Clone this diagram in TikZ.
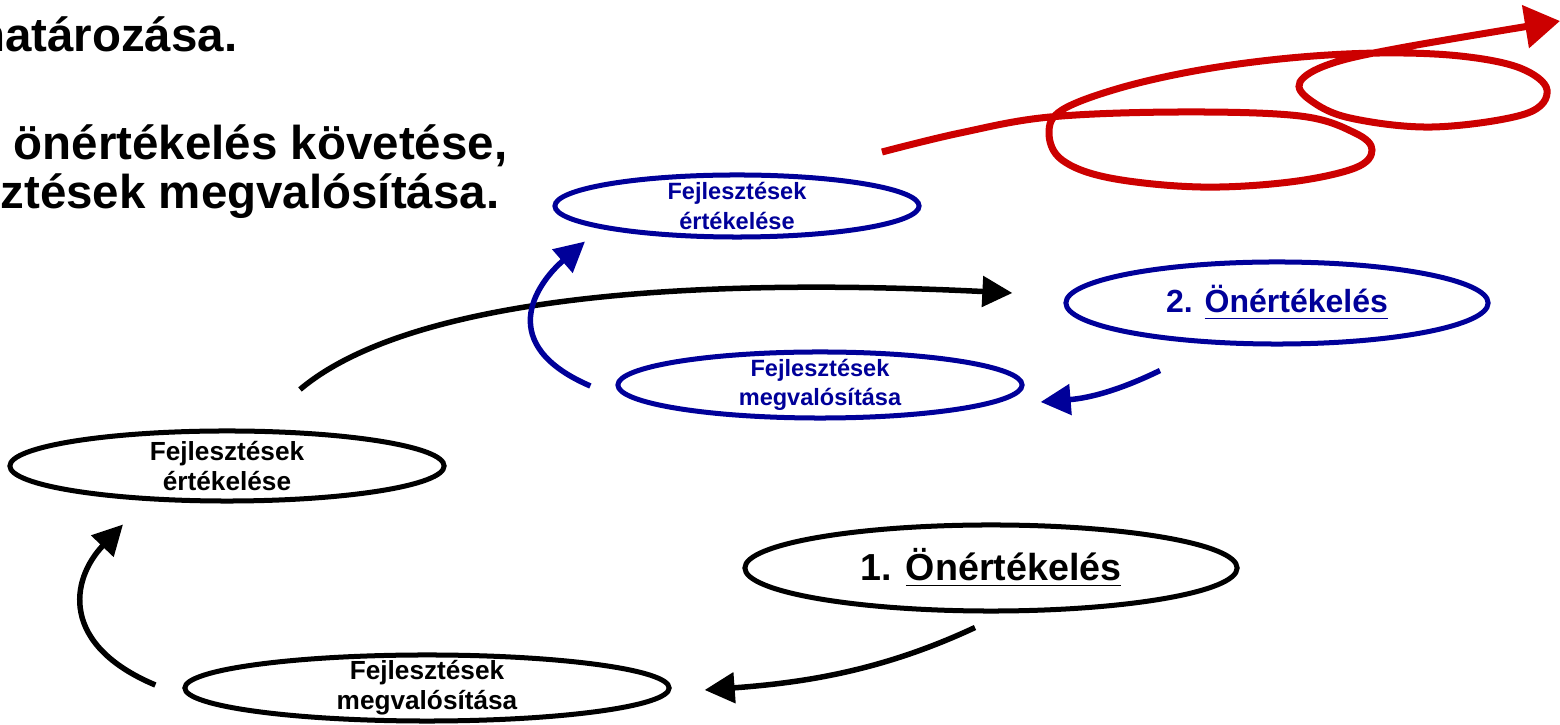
\documentclass[tikz,border=0pt]{standalone}
\usepackage{fontspec}
\setmainfont{Liberation Sans}
\usetikzlibrary{shapes.geometric,arrows.meta}
\definecolor{navy}{RGB}{0,0,153}
\definecolor{scribble}{RGB}{204,0,0}
\tikzset{
  ring/.style={ellipse, line width=0.05cm, inner sep=0pt},
  kring/.style={ring, draw=black},
  bring/.style={ring, draw=navy},
  ktext/.style={font=\bfseries\fontsize{7.45}{8.6}\selectfont, align=center, inner sep=0pt},
  btext/.style={ktext, font=\bfseries\fontsize{6.7}{8.4}\selectfont, text=navy},
  big/.style={font=\bfseries\fontsize{13.5}{16}\selectfont, inner sep=0pt, anchor=base east},
  karrow/.style={line width=0.055cm, -{Triangle[length=0.3cm,width=0.3cm]}},
  barrow/.style={karrow, draw=navy, -{Triangle[length=0.3cm,width=0.3cm,fill=navy]}},
}
\begin{document}
\begin{tikzpicture}[x=0.01cm, y=-0.01cm]
  \useasboundingbox (0,0) rectangle (1560,725);

  % left text, cut at the page edge
  \node[big] (t1) at (238,52) {határozása.};
  \node[big] (t2) at (508,160) {önértékelés követése,};
  \node[big] (t3) at (500,209) {ztések megvalósítása.};

  % first round (black)
  \node[kring, minimum width=4.92cm, minimum height=0.86cm,
        label={[ktext, font=\bfseries\fontsize{10.7}{12}\selectfont]center:1. \underline{Önértékelés}}] (kSelf) at (991,568) {};
  \node[kring, minimum width=4.84cm, minimum height=0.66cm,
        label={[ktext]center:Fejlesztések\\megvalósítása}] (kImpl) at (427,688) {};
  \node[kring, minimum width=4.34cm, minimum height=0.70cm,
        label={[ktext]center:Fejlesztések\\értékelése}] (kEval) at (227,466) {};

  % second round (blue)
  \node[bring, minimum width=4.22cm, minimum height=0.82cm,
        label={[btext, font=\bfseries\fontsize{9.1}{11}\selectfont]center:2. \underline{Önértékelés}}] (bSelf) at (1277,303) {};
  \node[bring, minimum width=4.04cm, minimum height=0.66cm,
        label={[btext]center:Fejlesztések\\megvalósítása}] (bImpl) at (820,385) {};
  \node[bring, minimum width=3.64cm, minimum height=0.62cm,
        label={[btext]center:Fejlesztések\\értékelése}] (bEval) at (737,206) {};

  % connectors
  \draw[karrow] ([shift={(-16,14)}]kSelf.south) .. controls (880,672) and (800,683) .. ([shift={(33,2)}]kImpl.east);
  \draw[karrow] ([shift={(-27,-3)}]kImpl.west) .. controls (60,645) and (70,580) .. ([shift={(-104,21)}]kEval.south);
  \draw[karrow] ([shift={(73,-39)}]kEval.north) .. controls (400,305) and (650,275) .. ([shift={(-51,-10)}]bSelf.west);
  \draw[barrow] ([shift={(-117,24)}]bSelf.south) .. controls (1120,390) and (1090,398) .. ([shift={(16,17)}]bImpl.east);
  \draw[barrow] ([shift={(-25,1)}]bImpl.west) .. controls (495,345) and (535,285) .. ([shift={(-152,2)}]bEval.south);

  % red spiral
  \draw[scribble, line width=0.07cm, -{Triangle[length=0.35cm,width=0.42cm]}]
    plot[smooth, tension=0.6] coordinates {(882,152) (960,133) (1050,117) (1180,112) (1300,116)
      (1355,133) (1372,150) (1355,168) (1290,182) (1200,187) (1110,178) (1062,160) (1049,133)
      (1062,110) (1120,88) (1200,70) (1290,58) (1380,53) (1460,56) (1520,68) (1547,90)
      (1525,114) (1433,127) (1350,118) (1310,100) (1300,82) (1330,64) (1400,48) (1560,21)};
\end{tikzpicture}
\end{document}
